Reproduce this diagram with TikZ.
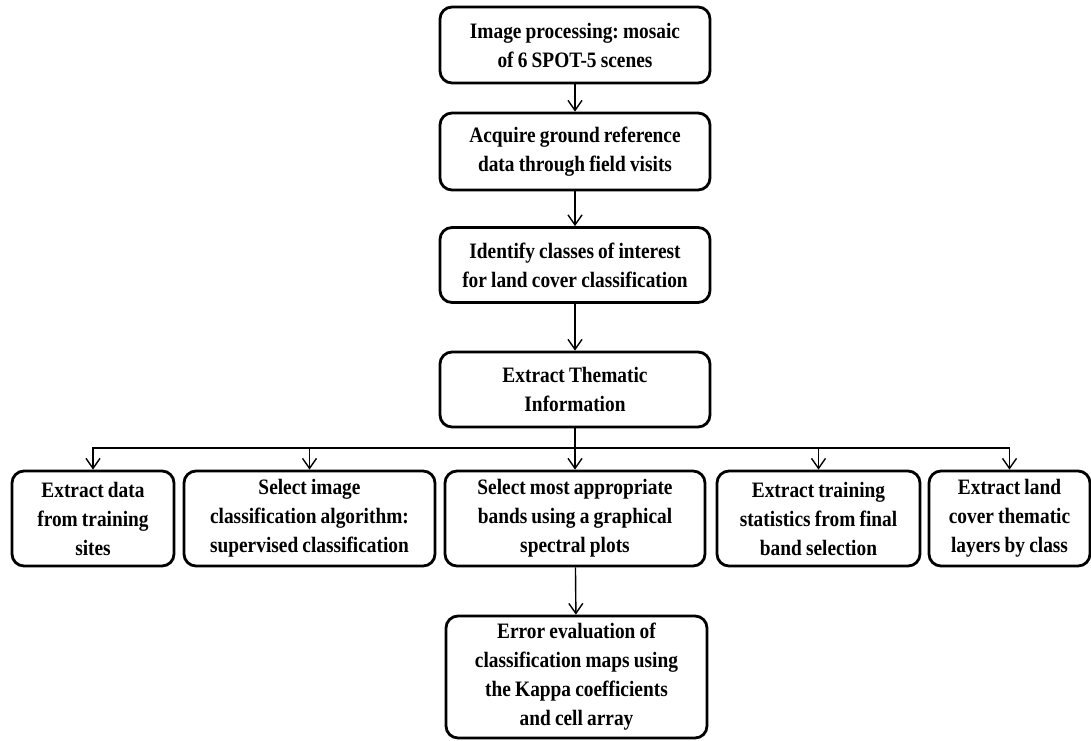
\documentclass[tikz,border=0pt]{standalone}
\usepackage{fontspec}
\setmainfont{Liberation Serif}[FakeStretch=0.88]
\usetikzlibrary{arrows.meta, positioning}
\newcommand{\stagefont}{\bfseries\fontsize{11}{14.5}\selectfont\frenchspacing\spaceskip 0.19em plus 0.05em\relax}

\begin{document}
\begin{tikzpicture}[
    x=0.5pt, y=-0.5pt,
    stage/.style={draw, rounded corners=6pt, line width=1.4pt, inner sep=0pt, align=center, font=\stagefont},
    flow/.style={-{Straight Barb[length=5pt, width=7pt]}, line width=0.7pt},
]
    \useasboundingbox (0,0) rectangle (1091,740);

    \node[stage, minimum width=135pt, minimum height=38pt] (mosaic) at (575, 45) {
        Image processing: mosaic\\
        of 6 SPOT-5 scenes
    };

    \node[stage, minimum width=135pt, minimum height=38.5pt] (ground) at (575, 151.5) {
        Acquire ground reference\\
        data through field visits
    };

    \node[stage, minimum width=135pt, minimum height=37.5pt] (classes) at (575, 265) {
        Identify classes of interest\\
        for land cover classification
    };

    \node[stage, minimum width=135pt, minimum height=37.5pt] (thematic) at (575, 389.5) {
        Extract Thematic\\
        Information
    };

    \node[stage, minimum width=81pt, minimum height=47.5pt] (sites) at (93, 518.5) {
        Extract data\\
        from training\\
        sites
    };

    \node[stage, minimum width=125.5pt, minimum height=47.5pt] (algo) at (309.5, 518.5) {
        Select image\\
        classification algorithm:\\
        supervised classification
    };

    \node[stage, minimum width=130pt, minimum height=47.5pt] (bands) at (575, 518.5) {
        Select most appropriate\\
        bands using a graphical\\
        spectral plots
    };

    \node[stage, minimum width=101.5pt, minimum height=47.5pt] (stats) at (818.5, 518.5) {
        Extract training\\
        statistics from final\\
        band selection
    };

    \node[stage, minimum width=80.5pt, minimum height=47.5pt] (layers) at (1009.5, 518.5) {
        Extract land\\
        cover thematic\\
        layers by class
    };

    \node[stage, minimum width=130.5pt, minimum height=61pt] (kappa) at (576.5, 677) {
        Error evaluation of\\
        classification maps using\\
        the Kappa coefficients\\
        and cell array
    };

    \coordinate (split) at (575, 448);

    \draw[flow] (mosaic) -- (ground);
    \draw[flow] (ground) -- (classes);
    \draw[flow] (classes) -- (thematic);
    \draw[line width=1.1pt] (thematic) -- (split);
    \draw[flow] (split) -| (sites);
    \draw[flow] (split) -| (algo);
    \draw[flow] (split) -- (bands);
    \draw[flow] (split) -| (stats);
    \draw[flow] (split) -| (layers);
    \draw[flow] (bands) -- (kappa);
\end{tikzpicture}
\end{document}
